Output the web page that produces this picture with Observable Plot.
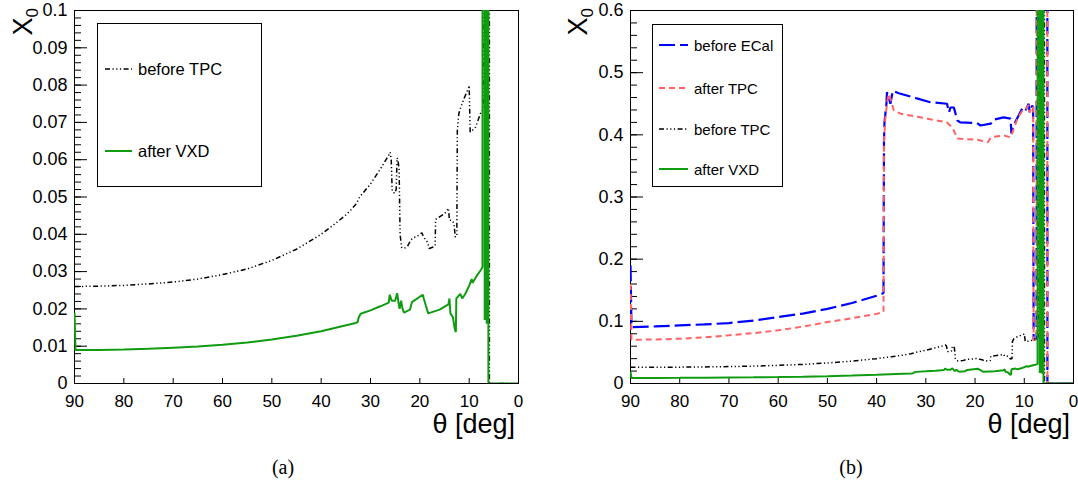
<!DOCTYPE html>
<html><head><meta charset="utf-8">
<script src="https://cdn.jsdelivr.net/npm/d3@7"></script>
<script src="https://cdn.jsdelivr.net/npm/@observablehq/plot@0.6"></script>
<style>
body{margin:0;background:#fff;width:1078px;height:490px;position:relative;overflow:hidden;font-family:"Liberation Sans",Arial,sans-serif}
.panel{position:absolute;top:0}
.legend{position:absolute;border:1px solid #000;background:#fff;box-sizing:border-box}
.entry{position:absolute;left:0;height:20px;display:flex;align-items:center;white-space:nowrap}
.cap{position:absolute;top:456px;line-height:22px;font-family:"Liberation Serif","Times New Roman",serif;font-size:20px;transform:translateX(-50%)}
</style></head><body>
<div id="a" class="panel" style="left:0"></div>
<div id="b" class="panel" style="left:539px"></div>
<div class="cap" style="left:283px">(a)</div>
<div class="cap" style="left:851px">(b)</div>
<script>
// ---- data: [theta (deg), X0] ----
const beforeTPC = [
 [90,0.0260],[85,0.0261],[80,0.0263],[75,0.0267],[70,0.0272],[65,0.0280],[60,0.0292],[55,0.0307],
 [50,0.0330],[45,0.0360],[40,0.0400],[37,0.0430],[35,0.0452],[34,0.0465],[33,0.0480],[32.5,0.0492],
 [32.2,0.0500],[30,0.0535],[28,0.0575],[26.3,0.0612],[26.0,0.0620],[25.8,0.0600],[25.6,0.0515],
 [25.1,0.0510],[24.8,0.0520],[24.6,0.0605],[24.4,0.0595],[24.2,0.0575],[24.0,0.0400],[23.7,0.0365],
 [23.2,0.0362],[22.5,0.0368],[21.8,0.0385],[21.4,0.0390],[20.5,0.0395],[19.6,0.0404],[19.2,0.0392],
 [18.8,0.0385],[18.4,0.0378],[18.1,0.0362],[17.2,0.0366],[16.9,0.0370],[16.8,0.0440],[15,0.0455],
 [14.2,0.0470],[14.0,0.0438],[13.4,0.0437],[13.1,0.0429],[12.8,0.0392],[12.5,0.0400],[12.4,0.0678],
 [12.1,0.0723],[11.8,0.0737],[11,0.0765],[10.07,0.0794],[10.0,0.0799],[9.8,0.0674],[9.4,0.0678],
 [8.7,0.0687],[7.7,0.0724],[7.4,0.0727],[7.15,0.0740],[7.1,3.0],[5.95,3.0],[5.9,0],[0,0]
];
const afterVXD = [
 [90,0.0190],[89.8,0.0090],[85,0.0090],[80,0.0091],[75,0.0093],[70,0.0096],[65,0.0099],[60,0.0104],
 [55,0.0110],[50,0.0118],[45,0.0128],[40,0.0140],[36,0.0153],[33,0.0162],[32.6,0.0165],[32.4,0.0177],
 [32.0,0.0187],[30,0.0196],[28,0.0207],[26.3,0.0217],[26.1,0.0238],[25.7,0.0222],[25.0,0.0222],
 [24.6,0.0242],[24.3,0.0215],[24.1,0.0200],[23.8,0.0222],[23.5,0.0200],[23.2,0.0190],[22.0,0.0198],
 [21.6,0.0218],[19.4,0.0238],[19.2,0.0228],[18.8,0.0210],[18.3,0.0188],[16,0.0198],[14.2,0.0212],
 [14.0,0.0228],[13.8,0.0188],[13.3,0.0178],[12.9,0.0145],[12.7,0.0138],[12.6,0.0228],[11.8,0.0240],
 [11.4,0.0228],[10.8,0.0240],[9.9,0.0265],[9.5,0.0280],[9.3,0.0270],[8.4,0.0290],[7.6,0.0305],
 [7.3,0.0312],[7.2,3.0],[6.9,3.0],[6.85,0.0170],[6.8,3.0],[6.5,3.0],[6.45,0.0160],[6.4,3.0],
 [6.15,3.0],[6.1,0],[0,0]
];
const beforeECal = [
 [90,0.190],[89.8,0.0906],[85,0.0918],[80,0.0935],[75,0.0950],[70,0.0972],[65,0.1012],[60,0.1068],
 [55,0.1125],[50,0.1200],[45,0.1295],[40,0.1412],[38.6,0.1455],[38.5,0.390],[38.4,0.420],[38.0,0.450],
 [37.9,0.4686],[37.2,0.450],[36.7,0.471],[35.5,0.467],[32,0.459],[29.1,0.4525],[25.7,0.450],
 [25.3,0.436],[25.0,0.444],[24.3,0.444],[23.6,0.423],[23.0,0.420],[19.6,0.419],[18.9,0.415],
 [16.8,0.418],[16.4,0.424],[14.2,0.428],[12.8,0.426],[12.6,0.402],[12.2,0.415],[10.3,0.444],
 [9.7,0.440],[9.1,0.450],[8.9,0.436],[8.4,0.447],[8.2,0.445],[8.1,0.070],[7.5,0.072],[7.4,3.0],
 [5.35,3.0],[5.3,0],[0,0]
];
const afterTPC = [
 [90,0.160],[89.8,0.0703],[85,0.0708],[80,0.0720],[75,0.0742],[70,0.0775],[65,0.0810],[60,0.0855],
 [55,0.0915],[50,0.0988],[45,0.1050],[40,0.1120],[38.6,0.1150],[38.5,0.390],[38.2,0.430],[37.8,0.455],
 [37.5,0.466],[36.5,0.439],[35.1,0.434],[29.7,0.426],[25.7,0.420],[24.6,0.412],[23.6,0.394],
 [19.6,0.392],[18.9,0.391],[17.4,0.388],[16.8,0.396],[14.2,0.399],[12.8,0.396],[12.4,0.404],
 [11.4,0.426],[10.3,0.440],[9.7,0.441],[9.1,0.448],[8.9,0.436],[8.4,0.446],[8.2,0.444],[8.1,0.070],
 [7.5,0.071],[7.4,3.0],[5.35,3.0],[5.3,0],[0,0]
];
const xTicks = [90,80,70,60,50,40,30,20,10,0];
const yMajorA = [0,0.01,0.02,0.03,0.04,0.05,0.06,0.07,0.08,0.09,0.1];
const yMinorA = d3.range(0,51).map(i => i*0.002);
const yMajorB = [0,0.1,0.2,0.3,0.4,0.5,0.6];
const yMinorB = d3.range(0,31).map(i => i*0.02);
const labelsA = ["before TPC","after VXD"];
const labelsB = ["before ECal","after TPC","before TPC","after VXD"];

const STY = {
  "before ECal": {color:"#0000ff", width:2.2, dash:"16,5"},
  "after TPC":   {color:"#ff6464", width:2, dash:"6,4"},
  "before TPC":  {color:"#000000", width:1.5, dash:"5,2.5,1.2,2.5,1.2,2.5,1.2,2.5"},
  "after VXD":   {color:"#109c10", width:2, dash:null}
};
const DATA = {"before ECal":beforeECal,"after TPC":afterTPC,"before TPC":beforeTPC,"after VXD":afterVXD};

function panel(el, {labels, yDomain, yMajor, yMinor, ml, mr, ylx}) {
  const W = 539, H = 445, mt = 10, mb = 62;
  const marks = [Plot.frame({stroke:"black"}),
    Plot.axisY(yMinor, {tickSize:-7, tickFormat:() => "", label:null}),
    Plot.axisY(yMajor, {tickSize:-13, tickPadding:20, tickFormat:d3.format("~g"), label:null, fontSize:18}),
    Plot.axisX(xTicks, {tickSize:-5, tickPadding:16, tickFormat:d => String(d), label:null, fontSize:17})
  ];
  for (const name of labels) {
    const s = STY[name];
    marks.push(Plot.line(DATA[name], {x:d => d[0], y:d => d[1], stroke:s.color, strokeWidth:s.width,
      strokeDasharray:s.dash, strokeLinecap:"butt", strokeLinejoin:"miter", clip:true}));
  }
  const svg = Plot.plot({width:W, height:H, marginTop:mt, marginBottom:mb, marginLeft:ml, marginRight:mr,
    x:{domain:[90,0]}, y:{domain:yDomain},
    style:{fontFamily:'"Liberation Sans", Arial, sans-serif', fontSize:"17px", color:"black", background:"transparent"},
    marks});
  const s = d3.select(svg);
  s.append("text").attr("x", W - mr - 3).attr("y", 433).attr("text-anchor","end")
    .attr("font-size", 27).attr("fill","black").text("θ [deg]");
  const yl = s.append("text").attr("transform", `translate(${ylx},8) rotate(-90)`)
    .attr("text-anchor","end").attr("font-size",27).attr("fill","black");
  yl.append("tspan").text("X");
  yl.append("tspan").attr("font-size",17).attr("dy",6).text("0");
  el.appendChild(svg);
}

function legend({left, top, w, h, rows, labels, sx, sw, tx, fs}) {
  const box = document.createElement("div");
  box.className = "legend";
  Object.assign(box.style, {left:left+"px", top:top+"px", width:w+"px", height:h+"px"});
  labels.forEach((name, i) => {
    const s = STY[name];
    const e = document.createElement("div");
    e.className = "entry";
    e.style.top = (rows[i] - 10) + "px";
    e.style.fontSize = fs + "px";
    e.innerHTML = `<svg width="${tx}" height="20" style="flex:none"><line x1="${sx}" y1="10" x2="${sx+sw}" y2="10" stroke="${s.color}" stroke-width="${s.width}" ${s.dash ? `stroke-dasharray="${s.dash}"` : ""}/></svg><span>${name}</span>`;
    box.appendChild(e);
  });
  document.body.appendChild(box);
}

panel(document.getElementById("a"), {labels:["before TPC","after VXD"], yDomain:[0,0.1], yMajor:yMajorA, yMinor:yMinorA, ml:74, mr:21, ylx:32});
panel(document.getElementById("b"), {labels:["before ECal","after TPC","before TPC","after VXD"], yDomain:[0,0.6], yMajor:yMajorB, yMinor:yMinorB, ml:91, mr:5, ylx:48});
legend({left:97, top:23, w:165, h:164, rows:[45,127], labels:labelsA, sx:7, sw:27, tx:40, fs:16.5});
legend({left:652, top:24, w:131, h:163, rows:[20,63,104,144], labels:labelsB, sx:6, sw:29, tx:41, fs:15});
</script>
</body></html>
